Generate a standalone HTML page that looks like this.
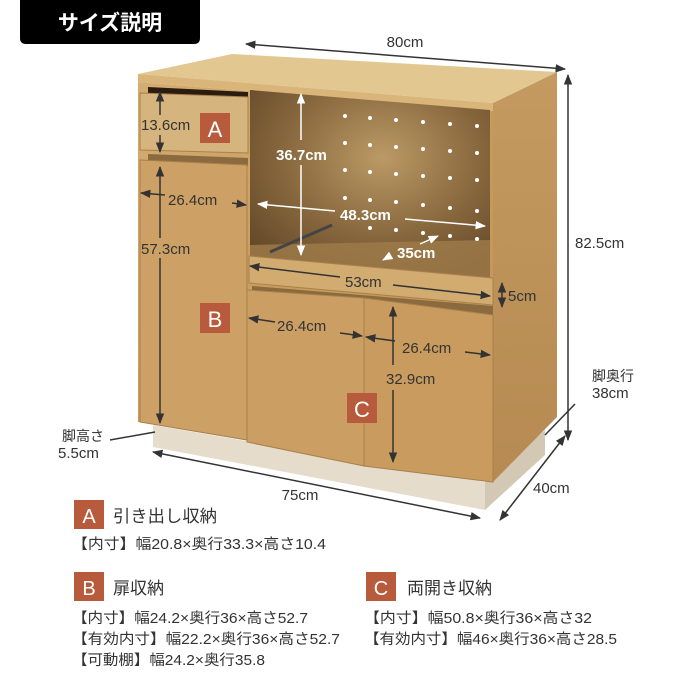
<!DOCTYPE html>
<html><head><meta charset="utf-8"><style>
html,body{margin:0;padding:0;background:#fff}
svg{display:block}
text{font-family:"Liberation Sans","Noto Sans CJK JP",sans-serif}
</style></head><body>
<svg width="690" height="690" viewBox="0 0 690 690" xmlns="http://www.w3.org/2000/svg">
<defs>
<linearGradient id="wood" x1="0" y1="0" x2="1" y2="1">
<stop offset="0" stop-color="#d3ad72"/><stop offset="0.5" stop-color="#c89a5c"/><stop offset="1" stop-color="#c29457"/>
</linearGradient>
<linearGradient id="side" x1="0" y1="0" x2="0" y2="1">
<stop offset="0" stop-color="#c49a60"/><stop offset="1" stop-color="#b68a52"/>
</linearGradient>
<radialGradient id="inner" cx="0.55" cy="0.35" r="0.7">
<stop offset="0" stop-color="#bc9a66"/><stop offset="0.6" stop-color="#86663c"/><stop offset="1" stop-color="#654a2a"/>
</radialGradient>
<marker id="ah" viewBox="0 0 10 10" refX="9" refY="5" markerWidth="7" markerHeight="7" orient="auto-start-reverse"><path d="M0,1 L10,5 L0,9 z" fill="#333"/></marker>
<marker id="aw" viewBox="0 0 10 10" refX="9" refY="5" markerWidth="7" markerHeight="7" orient="auto-start-reverse"><path d="M0,1 L10,5 L0,9 z" fill="#fff"/></marker>
</defs>

<path d="M20,0 H200 V38 Q200,44 194,44 H26 Q20,44 20,38 Z" fill="#000"/>
<text x="110" y="30" font-size="21" font-weight="bold" fill="#fff" text-anchor="middle">サイズ説明</text>

<polygon points="153,425 485,482 485,510 153,447" fill="#e6dccb"/>
<polygon points="485,482 545,430 545,455 485,510" fill="#d3c8b4"/>
<polygon points="493,103 557,72 557,417 493,482" fill="url(#side)"/>
<polygon points="138,74 232,54 557,72 493,103" fill="#e3c791"/>
<polygon points="138,74 493,103 493,111 138,82" fill="#d9b57a"/>
<polygon points="138,82 493,111 493,482 138,422" fill="url(#wood)"/>
<polygon points="250,90 490,110 490,283 250,262" fill="url(#inner)"/>
<polygon points="250,245 490,240 490,283 250,262" fill="#a07c4a" opacity="0.8"/>
<g fill="#fff">
<circle cx="345" cy="116" r="2"/><circle cx="370" cy="118" r="2"/><circle cx="396" cy="120" r="2"/><circle cx="423" cy="122" r="2"/><circle cx="450" cy="124" r="2"/><circle cx="477" cy="126" r="2"/>
<circle cx="345" cy="143" r="2"/><circle cx="370" cy="145" r="2"/><circle cx="396" cy="147" r="2"/><circle cx="423" cy="149" r="2"/><circle cx="450" cy="151" r="2"/><circle cx="477" cy="153" r="2"/>
<circle cx="345" cy="170" r="2"/><circle cx="370" cy="172" r="2"/><circle cx="396" cy="174" r="2"/><circle cx="423" cy="176" r="2"/><circle cx="450" cy="178" r="2"/><circle cx="477" cy="180" r="2"/>
<circle cx="345" cy="198" r="2"/><circle cx="370" cy="200" r="2"/><circle cx="396" cy="202" r="2"/><circle cx="423" cy="205" r="2"/><circle cx="450" cy="208" r="2"/><circle cx="477" cy="211" r="2"/>
<circle cx="370" cy="228" r="2"/><circle cx="396" cy="230" r="2"/><circle cx="423" cy="233" r="2"/><circle cx="450" cy="236" r="2"/><circle cx="477" cy="239" r="2"/>
</g>
<line x1="270" y1="252" x2="332" y2="225" stroke="#444" stroke-width="3"/>
<polygon points="249,256 493,278 493,305 249,283" fill="#d2ab70" stroke="#a8804c" stroke-width="1"/>
<polygon points="148,87 248,92 248,100 148,95" fill="#2a1d10"/>
<polygon points="140,93 248,97 248,153 140,150" fill="#d6b47d" stroke="#a8804c" stroke-width="1"/>
<polygon points="148,154 248,158 248,166 148,162" fill="#8a6a3e"/>
<polygon points="140,160 247,165 247,440 140,422" fill="#cda066" stroke="#a8804c" stroke-width="1"/>
<polygon points="252,286 493,306 493,316 252,296" fill="#8a6a3e"/>
<polygon points="247,290 364,298 364,466 247,442" fill="#cb9e63" stroke="#a8804c" stroke-width="1"/>
<polygon points="364,298 493,315 493,482 364,466" fill="#c99b5f" stroke="#a8804c" stroke-width="1"/>

<rect x="200" y="113" width="30" height="30" fill="#b85a3c"/><text x="215" y="137" font-size="22" fill="#fff" text-anchor="middle">A</text>
<rect x="200" y="303" width="30" height="30" fill="#b85a3c"/><text x="215" y="327" font-size="22" fill="#fff" text-anchor="middle">B</text>
<rect x="347" y="393" width="30" height="30" fill="#b85a3c"/><text x="362" y="417" font-size="22" fill="#fff" text-anchor="middle">C</text>

<g stroke="#333" stroke-width="1.5" fill="none">
<line x1="246" y1="44" x2="565" y2="69" marker-start="url(#ah)" marker-end="url(#ah)"/>
<line x1="568" y1="75" x2="568" y2="440" marker-start="url(#ah)" marker-end="url(#ah)"/>
<line x1="160" y1="92" x2="160" y2="115" marker-start="url(#ah)"/>
<line x1="160" y1="135" x2="160" y2="152" marker-end="url(#ah)"/>
<line x1="160" y1="167" x2="160" y2="238" marker-start="url(#ah)"/>
<line x1="160" y1="258" x2="160" y2="423" marker-end="url(#ah)"/>
<line x1="141" y1="193" x2="165" y2="195" marker-start="url(#ah)"/>
<line x1="232" y1="203" x2="246" y2="205" marker-end="url(#ah)"/>
<line x1="250" y1="266" x2="340" y2="277" marker-start="url(#ah)"/>
<line x1="393" y1="285" x2="490" y2="296" marker-end="url(#ah)"/>
<line x1="502" y1="283" x2="502" y2="307" marker-start="url(#ah)" marker-end="url(#ah)"/>
<line x1="249" y1="318" x2="275" y2="322" marker-start="url(#ah)"/>
<line x1="340" y1="333" x2="362" y2="336" marker-end="url(#ah)"/>
<line x1="366" y1="337" x2="395" y2="341" marker-start="url(#ah)"/>
<line x1="465" y1="352" x2="490" y2="355" marker-end="url(#ah)"/>
<line x1="393" y1="307" x2="393" y2="365" marker-start="url(#ah)"/>
<line x1="393" y1="390" x2="393" y2="462" marker-end="url(#ah)"/>
<line x1="153" y1="452" x2="480" y2="518" marker-start="url(#ah)" marker-end="url(#ah)"/>
<line x1="565" y1="436" x2="500" y2="520" marker-start="url(#ah)" marker-end="url(#ah)"/>
<line x1="110" y1="440" x2="155" y2="432"/>
<line x1="575" y1="404" x2="545" y2="435"/>
</g>
<g stroke="#fff" stroke-width="1.5" fill="none">
<line x1="301" y1="94" x2="301" y2="140" marker-start="url(#aw)"/>
<line x1="301" y1="165" x2="301" y2="255" marker-end="url(#aw)"/>
<line x1="258" y1="204" x2="335" y2="211" marker-start="url(#aw)"/>
<line x1="405" y1="219" x2="485" y2="226" marker-end="url(#aw)"/>
<line x1="420" y1="244" x2="438" y2="236" marker-end="url(#aw)"/>
<line x1="390" y1="256" x2="383" y2="260" marker-end="url(#aw)"/>
</g>

<g font-size="15" fill="#333">
<text x="405" y="47" text-anchor="middle">80cm</text>
<text x="575" y="248">82.5cm</text>
<text x="141" y="130">13.6cm</text>
<text x="168" y="205">26.4cm</text>
<text x="141" y="254">57.3cm</text>
<text x="345" y="287">53cm</text>
<text x="508" y="301">5cm</text>
<text x="277" y="331">26.4cm</text>
<text x="402" y="353">26.4cm</text>
<text x="386" y="384">32.9cm</text>
<text x="300" y="500" text-anchor="middle">75cm</text>
<text x="533" y="493">40cm</text>
<text x="592" y="381" font-size="14">脚奥行</text>
<text x="592" y="398">38cm</text>
<text x="62" y="441" font-size="14">脚高さ</text>
<text x="58" y="458">5.5cm</text>
</g>
<g font-size="15" fill="#fff" font-weight="bold">
<text x="276" y="160">36.7cm</text>
<text x="340" y="220">48.3cm</text>
<text x="397" y="258">35cm</text>
</g>

<rect x="74" y="500" width="30" height="29" fill="#b85a3c"/><text x="89" y="523" font-size="20" fill="#fff" text-anchor="middle">A</text>
<text x="113" y="522" font-size="17" fill="#333" textLength="104" lengthAdjust="spacingAndGlyphs">引き出し収納</text>
<g font-size="14.5" fill="#333">
<text x="72" y="549" textLength="254" lengthAdjust="spacingAndGlyphs">【内寸】幅20.8×奥行33.3×高さ10.4</text>
<text x="72" y="623" textLength="236" lengthAdjust="spacingAndGlyphs">【内寸】幅24.2×奥行36×高さ52.7</text>
<text x="72" y="644" textLength="268" lengthAdjust="spacingAndGlyphs">【有効内寸】幅22.2×奥行36×高さ52.7</text>
<text x="72" y="665" textLength="193" lengthAdjust="spacingAndGlyphs">【可動棚】幅24.2×奥行35.8</text>
<text x="364" y="623" textLength="228" lengthAdjust="spacingAndGlyphs">【内寸】幅50.8×奥行36×高さ32</text>
<text x="364" y="644" textLength="253" lengthAdjust="spacingAndGlyphs">【有効内寸】幅46×奥行36×高さ28.5</text>
</g>
<rect x="74" y="572" width="30" height="29" fill="#b85a3c"/><text x="89" y="595" font-size="20" fill="#fff" text-anchor="middle">B</text>
<text x="113" y="594" font-size="17" fill="#333">扉収納</text>
<rect x="366" y="572" width="30" height="29" fill="#b85a3c"/><text x="381" y="595" font-size="20" fill="#fff" text-anchor="middle">C</text>
<text x="407" y="594" font-size="17" fill="#333">両開き収納</text>
</svg>
</body></html>
